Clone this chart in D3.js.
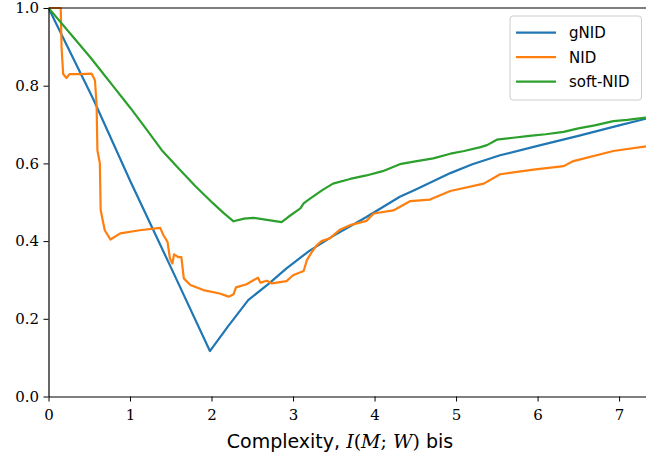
<!DOCTYPE html>
<html>
<head>
<meta charset="utf-8">
<script src="https://cdn.jsdelivr.net/npm/d3@7"></script>
<style>
  body { margin: 0; background: #fff; }
  svg { display: block; }
</style>
</head>
<body>
<div id="chart"></div>
<script>
// complexity (bits) and normalised distances
const gnidX = [0, 0.55, 1.0, 1.5, 1.98, 2.2, 2.45, 2.7, 2.92, 3.2, 3.5, 3.9, 4.31, 4.5, 4.93, 5.2, 5.54, 6.0, 6.5, 7.0, 7.33];
const gnidY = [1.0, 0.765, 0.556, 0.333, 0.117, 0.18, 0.248, 0.29, 0.33, 0.375, 0.414, 0.462, 0.514, 0.532, 0.575, 0.598, 0.621, 0.645, 0.671, 0.698, 0.715];

const softX = [0, 0.3, 0.51, 0.6, 0.8, 1.0, 1.2, 1.39, 1.6, 1.8, 2.02, 2.15, 2.27, 2.4, 2.51, 2.7, 2.86, 2.94, 3.09, 3.13, 3.2, 3.35, 3.49, 3.7, 3.9, 4.1, 4.31, 4.5, 4.72, 4.93, 5.1, 5.3, 5.38, 5.5, 5.7, 5.9, 6.1, 6.32, 6.5, 6.7, 6.93, 7.1, 7.33];
const softY = [1.0, 0.926, 0.874, 0.85, 0.797, 0.744, 0.688, 0.634, 0.586, 0.542, 0.497, 0.472, 0.451, 0.458, 0.46, 0.454, 0.449, 0.462, 0.484, 0.497, 0.508, 0.53, 0.548, 0.56, 0.569, 0.58, 0.598, 0.605, 0.613, 0.625, 0.632, 0.642, 0.647, 0.661, 0.666, 0.671, 0.675, 0.681, 0.69, 0.698, 0.709, 0.712, 0.718];

const nidX = [0, 0.15, 0.16, 0.18, 0.22, 0.26, 0.4, 0.53, 0.57, 0.59, 0.6, 0.63, 0.64, 0.69, 0.76, 0.88, 1.12, 1.37, 1.41, 1.46, 1.49, 1.52, 1.54, 1.59, 1.63, 1.66, 1.74, 1.9, 2.1, 2.21, 2.27, 2.3, 2.43, 2.57, 2.6, 2.68, 2.74, 2.92, 3.0, 3.13, 3.17, 3.23, 3.29, 3.35, 3.45, 3.58, 3.7, 3.9, 3.99, 4.23, 4.44, 4.68, 4.93, 5.34, 5.54, 5.95, 6.32, 6.44, 6.93, 7.33];
const nidY = [1.0, 1.0, 0.9, 0.83, 0.82, 0.83, 0.83, 0.831, 0.814, 0.75, 0.634, 0.6, 0.48, 0.428, 0.404, 0.42, 0.428, 0.434, 0.415, 0.398, 0.355, 0.342, 0.366, 0.359, 0.359, 0.304, 0.287, 0.274, 0.265, 0.257, 0.263, 0.281, 0.289, 0.306, 0.293, 0.298, 0.291, 0.297, 0.312, 0.323, 0.351, 0.372, 0.389, 0.4, 0.407, 0.43, 0.441, 0.452, 0.471, 0.479, 0.503, 0.507, 0.529, 0.548, 0.572, 0.584, 0.593, 0.606, 0.632, 0.644];

const seriesNames = ['gNID', 'NID', 'soft-NID'];
const seriesColors = ['#1f77b4', '#ff7f0e', '#2ca02c'];
const xTicks = [0, 1, 2, 3, 4, 5, 6, 7];
const yTicks = [0.0, 0.2, 0.4, 0.6, 0.8, 1.0];

const series = [
    { name: seriesNames[0], color: seriesColors[0], pts: gnidX.map((x, i) => [x, gnidY[i]]) },
    { name: seriesNames[1], color: seriesColors[1], pts: nidX.map((x, i) => [x, nidY[i]]) },
    { name: seriesNames[2], color: seriesColors[2], pts: softX.map((x, i) => [x, softY[i]]) }
];

const margin = { top: 8, right: 0, bottom: 65, left: 48.5 };
const totalW = 646, totalH = 462;
const width = totalW - margin.left - margin.right;
const height = totalH - margin.top - margin.bottom;

const svg = d3.select('#chart')
    .append('svg')
    .attr('width', totalW)
    .attr('height', totalH);

const g = svg.append('g')
    .attr('transform', `translate(${margin.left}, ${margin.top})`);

const xScale = d3.scaleLinear().domain([0, 7.33]).range([0, width]);
const yScale = d3.scaleLinear().domain([0, 1]).range([height - 0.5, 0]);

// clip lines to the plot area
g.append('clipPath').attr('id', 'clip')
    .append('rect').attr('x', 0).attr('y', -2).attr('width', width).attr('height', height + 2);

const line = d3.line()
    .x(d => xScale(d[0]))
    .y(d => yScale(d[1]));

g.append('g').attr('clip-path', 'url(#clip)')
    .selectAll('path')
    .data(series)
    .enter()
    .append('path')
    .attr('d', d => line(d.pts))
    .attr('fill', 'none')
    .attr('stroke', d => d.color)
    .attr('stroke-width', 2.2)
    .attr('stroke-linejoin', 'round');

const xAxis = d3.axisBottom(xScale).tickValues(xTicks).tickFormat(d3.format('d')).tickSize(5).tickSizeOuter(0);
const yAxis = d3.axisLeft(yScale).tickValues(yTicks).tickFormat(d3.format('.1f')).tickSize(5).tickSizeOuter(0);

const xg = g.append('g')
    .attr('transform', `translate(0, ${height - 0.5})`)
    .call(xAxis);
const yg = g.append('g').call(yAxis);

[xg, yg].forEach(a => {
    a.select('.domain').attr('stroke', '#000').attr('stroke-width', 1.2);
    a.selectAll('.tick line').attr('stroke', '#000').attr('stroke-width', 1);
    a.selectAll('.tick text')
        .attr('fill', '#000')
        .style('font-family', '"DejaVu Serif", "Liberation Serif", serif')
        .style('font-size', '15px');
});
xg.selectAll('.tick text').attr('dy', '1.05em');
yg.selectAll('.tick text').attr('dx', '-0.1em');

// top spine
g.append('line')
    .attr('x1', 0).attr('x2', width)
    .attr('y1', 0).attr('y2', 0)
    .attr('stroke', '#000').attr('stroke-width', 1.2);

// x label
const lab = svg.append('text')
    .attr('x', 340)
    .attr('y', 448)
    .attr('text-anchor', 'middle')
    .style('font-size', '19px')
    .style('font-family', '"DejaVu Sans", sans-serif');
lab.append('tspan').text('Complexity, ');
lab.append('tspan').style('font-family', '"DejaVu Serif", serif').style('font-style', 'italic').text('I');
lab.append('tspan').style('font-family', '"DejaVu Serif", serif').text('(');
lab.append('tspan').style('font-family', '"DejaVu Serif", serif').style('font-style', 'italic').text('M');
lab.append('tspan').style('font-family', '"DejaVu Serif", serif').text('; ');
lab.append('tspan').style('font-family', '"DejaVu Serif", serif').style('font-style', 'italic').text('W');
lab.append('tspan').style('font-family', '"DejaVu Serif", serif').text(')');
lab.append('tspan').text(' bis');

// legend
const legend = svg.append('g').attr('transform', 'translate(510, 16)');
legend.append('rect')
    .attr('width', 131.5).attr('height', 84)
    .attr('rx', 3)
    .attr('fill', '#fff').attr('fill-opacity', 0.8)
    .attr('stroke', '#ccc').attr('stroke-width', 1);

const items = legend.selectAll('.item')
    .data(series)
    .enter()
    .append('g')
    .attr('class', 'item')
    .attr('transform', (d, i) => `translate(0, ${16.7 + i * 24.5})`);
items.append('line')
    .attr('x1', 6).attr('x2', 46)
    .attr('stroke', d => d.color).attr('stroke-width', 2.2);
items.append('text')
    .attr('x', 59).attr('y', 5.5)
    .style('font-family', '"DejaVu Sans", sans-serif')
    .style('font-size', '15px')
    .text(d => d.name);
</script>
</body>
</html>
